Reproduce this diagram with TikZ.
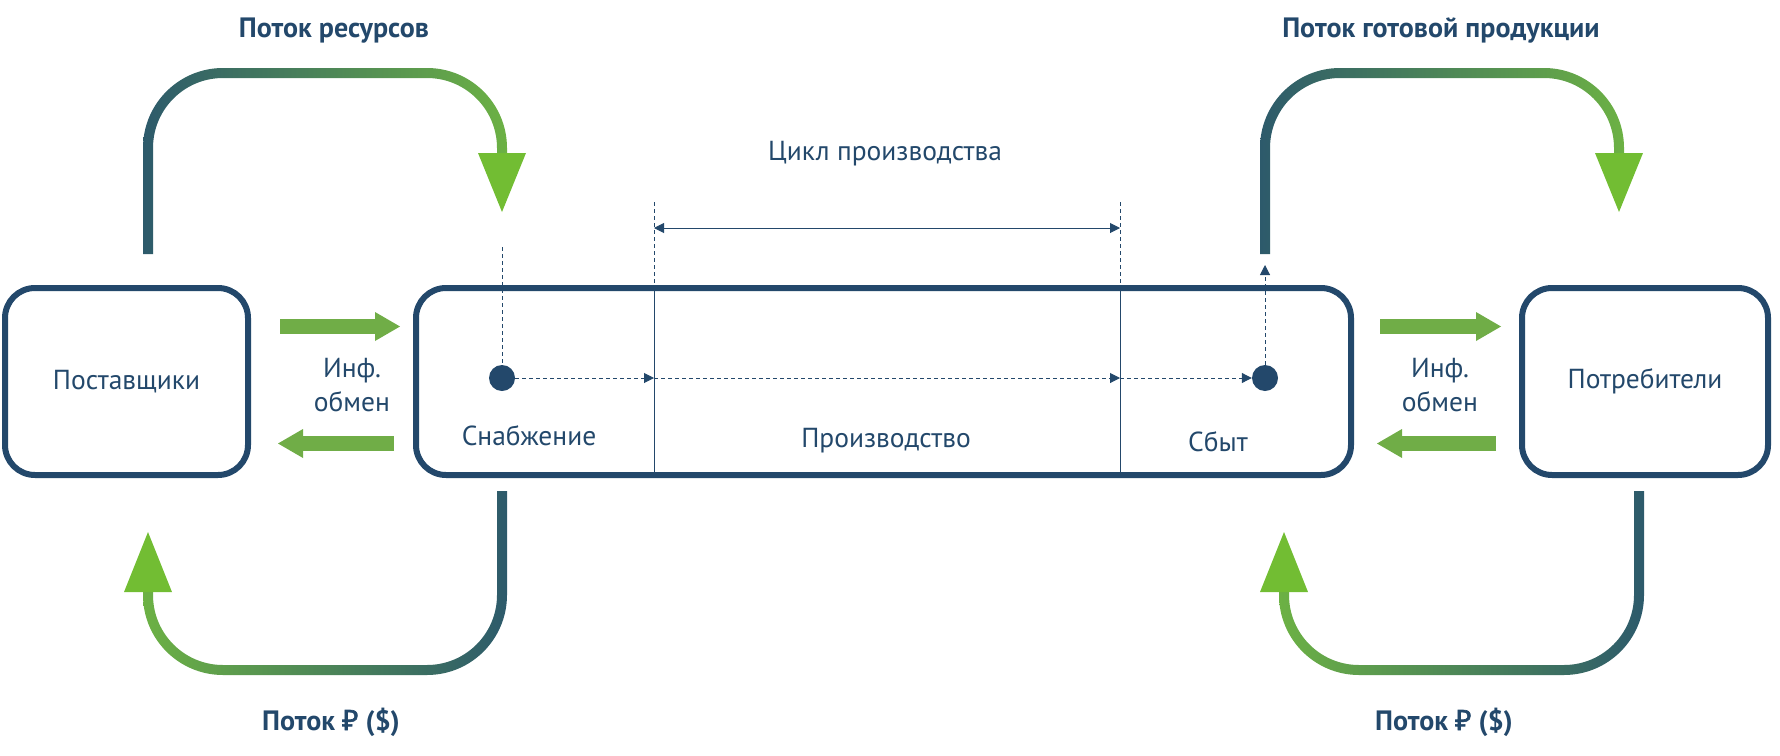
\documentclass[tikz,border=0pt]{standalone}
\usepackage{fontspec}
\setmainfont{PT Sans}
\newfontfamily\rubfont{Noto Sans}[FakeBold=2.2]
\usetikzlibrary{arrows.meta,calc}

\definecolor{navy}{HTML}{23486B}
\definecolor{flowdark}{HTML}{2D5A6B}
\definecolor{flowgreen}{HTML}{6CB144}
\definecolor{headgreen}{HTML}{72BD33}
\definecolor{infogreen}{HTML}{70AD47}

\newcommand{\lblfont}{\fontsize{27.5}{34}\selectfont}
\newcommand{\ttlfont}{\bfseries\fontsize{28}{32}\selectfont}

\tikzset{
  box/.style={draw=navy, line width=6pt, rounded corners=30pt, minimum height=187pt,
    inner sep=0pt, text=navy, font=\lblfont},
  lbltext/.style={text=navy, font=\lblfont, inner sep=0pt},
  titletext/.style={text=navy, font=\ttlfont, inner sep=0pt},
  flowdot/.style={circle, fill=navy, inner sep=0pt, minimum size=26pt},
  thinline/.style={draw=navy, line width=1pt},
  dashlink/.style={draw=navy, line width=1pt, dash pattern=on 4pt off 3pt},
  headtip/.style={-{Triangle[length=10pt,width=10pt]}},
  infoarrow/.style={draw=infogreen, line width=15pt, -{Triangle[length=25pt,width=29pt,line width=0pt]}},
  flowhead/.style={fill=headgreen},
  flowband/.style={even odd rule},
}

\begin{document}
\begin{tikzpicture}[x=1pt, y=-1pt]
\useasboundingbox (0,0) rectangle (1780,755);

% flows (shaded bands, cut to their ends by a clip)
\begin{scope}
  \clip (130,50) -- (520,50) -- (520,153) -- (400,153) -- (400,254) -- (130,254) -- cycle;
  \shade[flowband, left color=flowdark, right color=flowgreen]
    [rounded corners=80pt] (143,68) rectangle (507,400)
    [rounded corners=70pt] (153,78) rectangle (497,400);
\end{scope}
\begin{scope}
  \clip (1250,50) -- (1640,50) -- (1640,153) -- (1500,153) -- (1500,254) -- (1250,254) -- cycle;
  \shade[flowband, left color=flowdark, right color=flowgreen]
    [rounded corners=80pt] (1260,68) rectangle (1624,400)
    [rounded corners=70pt] (1270,78) rectangle (1614,400);
\end{scope}
\begin{scope}
  \clip (130,592) -- (200,592) -- (200,491) -- (520,491) -- (520,700) -- (130,700) -- cycle;
  \shade[flowband, left color=flowgreen, right color=flowdark]
    [rounded corners=80pt] (143,300) rectangle (507,675)
    [rounded corners=70pt] (153,300) rectangle (497,665);
\end{scope}
\begin{scope}
  \clip (1270,592) -- (1350,592) -- (1350,491) -- (1660,491) -- (1660,700) -- (1270,700) -- cycle;
  \shade[flowband, left color=flowgreen, right color=flowdark]
    [rounded corners=80pt] (1279,300) rectangle (1644,675)
    [rounded corners=70pt] (1289,300) rectangle (1634,665);
\end{scope}
\fill[flowhead] (478,153) -- (526,153) -- (502,212) -- cycle;
\fill[flowhead] (1595,153) -- (1643,153) -- (1619,212) -- cycle;
\fill[flowhead] (124,592) -- (172,592) -- (148,532) -- cycle;
\fill[flowhead] (1260,592) -- (1308,592) -- (1284,532) -- cycle;

\node[titletext, anchor=base] (restitle) at (334,37) {Поток ресурсов};
\node[titletext, anchor=base] (goodstitle) at (1441,37) {Поток готовой продукции};
\node[titletext, anchor=base] (paytitleL) at (331,730) {Поток {\rubfont\mdseries ₽} (\$)};
\node[titletext, anchor=base] (paytitleR) at (1444,730) {Поток {\rubfont\mdseries ₽} (\$)};

% boxes
\node[box, minimum width=243pt] (suppliers) at (126.5,381.5) {Поставщики};
\node[box, minimum width=935pt] (prodbox) at (883.5,381.5) {};
\node[box, minimum width=246pt] (consumers) at (1645,381.5) {Потребители};

\node[lbltext, anchor=base] (supplytxt) at (529,445) {Снабжение};
\node[lbltext, anchor=base] (maketxt) at (886,447) {Производство};
\node[lbltext, anchor=base] (salestxt) at (1218,451) {Сбыт};

% production cycle
\coordinate (div1) at (654,202);
\coordinate (div2) at (1120,202);
\coordinate (span) at (0,228);
\draw[dashlink] (div1) -- (div1 |- prodbox.north);
\draw[dashlink] (div2) -- (div2 |- prodbox.north);
\draw[thinline] (div1 |- prodbox.north) -- (div1 |- prodbox.south);
\draw[thinline] (div2 |- prodbox.north) -- (div2 |- prodbox.south);
\draw[thinline, {Triangle[length=10pt,width=10pt]}-{Triangle[length=10pt,width=10pt]}]
  (div1 |- span) -- (div2 |- span);
\node[lbltext, anchor=base] (cycletitle) at (885,160) {Цикл производства};

% material path
\node[flowdot] (supply) at (502,378) {};
\node[flowdot] (sales) at (1265,378) {};
\coordinate (supplyin) at (502,247);
\coordinate (salesout) at (1265,265);
\draw[dashlink] (supplyin) -- (supply);
\draw[dashlink, headtip] (supply) -- (div1 |- supply);
\draw[dashlink, headtip] (div1 |- supply) -- (div2 |- supply);
\draw[dashlink, headtip] (div2 |- supply) -- (sales);
\draw[dashlink, headtip] (sales) -- (salesout);

% information exchange
\draw[infoarrow] ($(suppliers.east)+(29,-55)$) -- ($(prodbox.west)+(-13,-55)$);
\draw[infoarrow] ($(prodbox.west)+(-19,62)$) -- ($(suppliers.east)+(27,62)$);
\draw[infoarrow] ($(prodbox.east)+(26,-55)$) -- ($(consumers.west)+(-18,-55)$);
\draw[infoarrow] ($(consumers.west)+(-23,62)$) -- ($(prodbox.east)+(23,62)$);
\node[lbltext, align=center] (infoL) at (352,385) {Инф.\\обмен};
\node[lbltext, align=center] (infoR) at (1440,385) {Инф.\\обмен};
\end{tikzpicture}
\end{document}
